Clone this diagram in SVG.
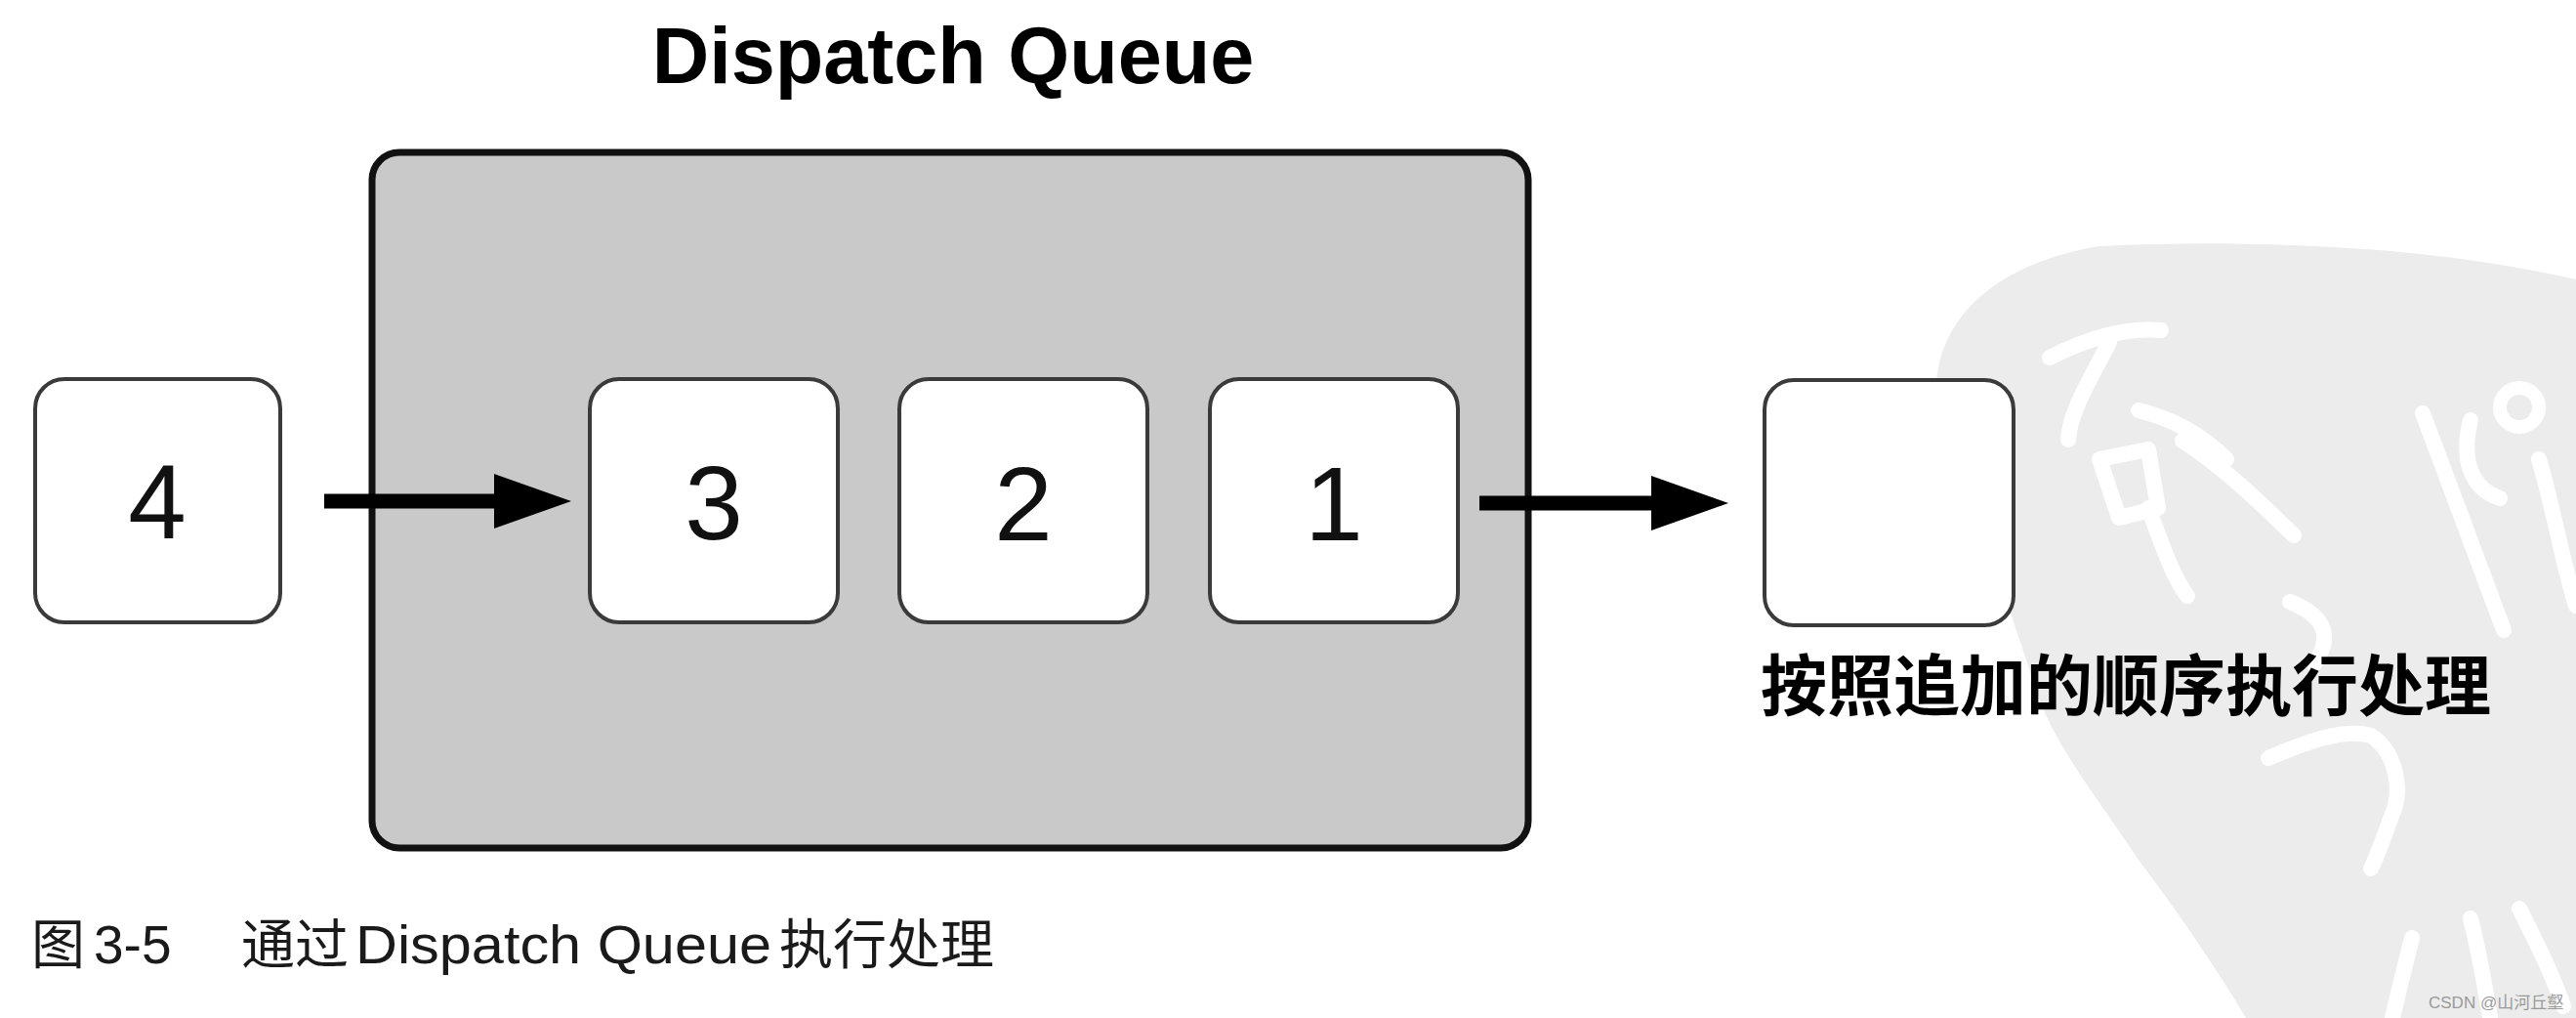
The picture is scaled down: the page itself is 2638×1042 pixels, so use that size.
<svg xmlns="http://www.w3.org/2000/svg" width="2638" height="1042" viewBox="0 0 2638 1042">
  <style>
    .box { fill: #ffffff; stroke: #3a3a3a; stroke-width: 4; }
    .num { font-family: "Liberation Sans", Arial, sans-serif; font-size: 107px; fill: #111; text-anchor: middle; }
    .conn { stroke: #000; stroke-width: 15; fill: none; }
    .wm { stroke: #ffffff; stroke-width: 16; fill: none; stroke-linecap: round; stroke-linejoin: round; }
  </style>
  <defs>
    <marker id="arrowhead" markerUnits="userSpaceOnUse" markerWidth="80" markerHeight="56" viewBox="0 0 80 56" refX="10" refY="28" orient="auto">
      <path d="M0,0 L79,28 L0,56 Z" fill="#000"/>
    </marker>
  </defs>
  <rect width="2638" height="1042" fill="#ffffff"/>

  <g id="watermark">
    <path d="M2638,286 L2638,1042 L2300,1042 C2260,975 2220,920 2190,880 C2150,820 2110,770 2090,720 C2070,660 2050,600 2035,560 C2010,500 1990,460 1983,410 C1978,330 2040,270 2150,252 C2300,245 2480,250 2638,286 Z" fill="#ececec"/>
    <path class="wm" d="M2099,366 C2140,345 2180,335 2213,338"/>
    <path class="wm" d="M2160,350 C2140,390 2120,420 2118,450"/>
    <path class="wm" d="M2190,420 C2230,430 2260,450 2280,470"/>
    <path class="wm" d="M2235,451 C2280,480 2320,520 2349,548"/>
    <path class="wm" d="M2150,470 L2170,530 L2210,520 L2200,460 Z"/>
    <path class="wm" d="M2200,520 C2215,560 2225,590 2240,610"/>
    <path class="wm" d="M2481,423 C2510,500 2540,580 2564,645"/>
    <path class="wm" d="M2530,430 C2520,470 2530,500 2560,510"/>
    <circle cx="2580" cy="417" r="20" fill="none" stroke="#ffffff" stroke-width="14"/>
    <path class="wm" d="M2600,470 C2615,520 2625,580 2638,620"/>
    <path class="wm" d="M2345,616 C2380,630 2390,650 2370,680"/>
    <path class="wm" d="M2323,776 C2360,760 2400,745 2428,753 C2455,770 2460,810 2450,833 C2440,860 2435,875 2428,889"/>
    <path class="wm" d="M2470,960 C2460,1000 2455,1020 2450,1042"/>
    <path class="wm" d="M2530,940 C2540,980 2545,1010 2550,1042"/>
    <path class="wm" d="M2580,930 C2600,970 2615,1000 2625,1030"/>
  </g>

  <g id="title">
    <text x="976" y="85" font-family="'Liberation Sans', Arial, sans-serif" font-size="81" font-weight="bold" fill="#000" text-anchor="middle">Dispatch Queue</text>
  </g>

  <g id="dispatch-queue">
    <rect x="381" y="156" width="1184" height="712" rx="28" ry="28" fill="#c9c9c9" stroke="#111" stroke-width="7"/>
  </g>

  <g id="node-4">
    <rect class="box" x="36" y="388" width="251" height="249" rx="30" ry="30"/>
    <text class="num" x="161" y="551">4</text>
  </g>
  <g id="node-3">
    <rect class="box" x="604" y="388" width="254" height="249" rx="30" ry="30"/>
    <text class="num" x="731" y="552">3</text>
  </g>
  <g id="node-2">
    <rect class="box" x="921" y="388" width="254" height="249" rx="30" ry="30"/>
    <text class="num" x="1048" y="553">2</text>
  </g>
  <g id="node-1">
    <rect class="box" x="1239" y="388" width="254" height="249" rx="30" ry="30"/>
    <text class="num" x="1366" y="553">1</text>
  </g>
  <g id="node-done">
    <rect class="box" x="1807" y="389" width="255" height="251" rx="30" ry="30"/>
  </g>

  <g id="connectors">
    <line class="conn" x1="332" y1="513" x2="516" y2="513" marker-end="url(#arrowhead)"/>
    <line class="conn" x1="1515" y1="515" x2="1701" y2="515" marker-end="url(#arrowhead)"/>
  </g>

  <g id="label">
    <text x="1803" y="727" font-family="'Noto Sans CJK SC', sans-serif" font-size="68" font-weight="bold" fill="#000">按照追加的顺序执行处理</text>
  </g>

  <g id="caption" font-family="'Liberation Sans', 'Noto Sans CJK SC', sans-serif" font-size="55" fill="#1a1a1a">
    <text x="32" y="986">图</text>
    <text x="96" y="986">3-5</text>
    <text x="247" y="986">通过</text>
    <text x="364" y="986" textLength="426" lengthAdjust="spacingAndGlyphs">Dispatch Queue</text>
    <text x="798" y="986">执行处理</text>
  </g>

  <g id="credit">
    <text x="2487" y="1032" font-family="'Liberation Sans', 'Noto Sans CJK SC', sans-serif" font-size="17" fill="#9a9a9a">CSDN @山河丘壑</text>
  </g>
</svg>
